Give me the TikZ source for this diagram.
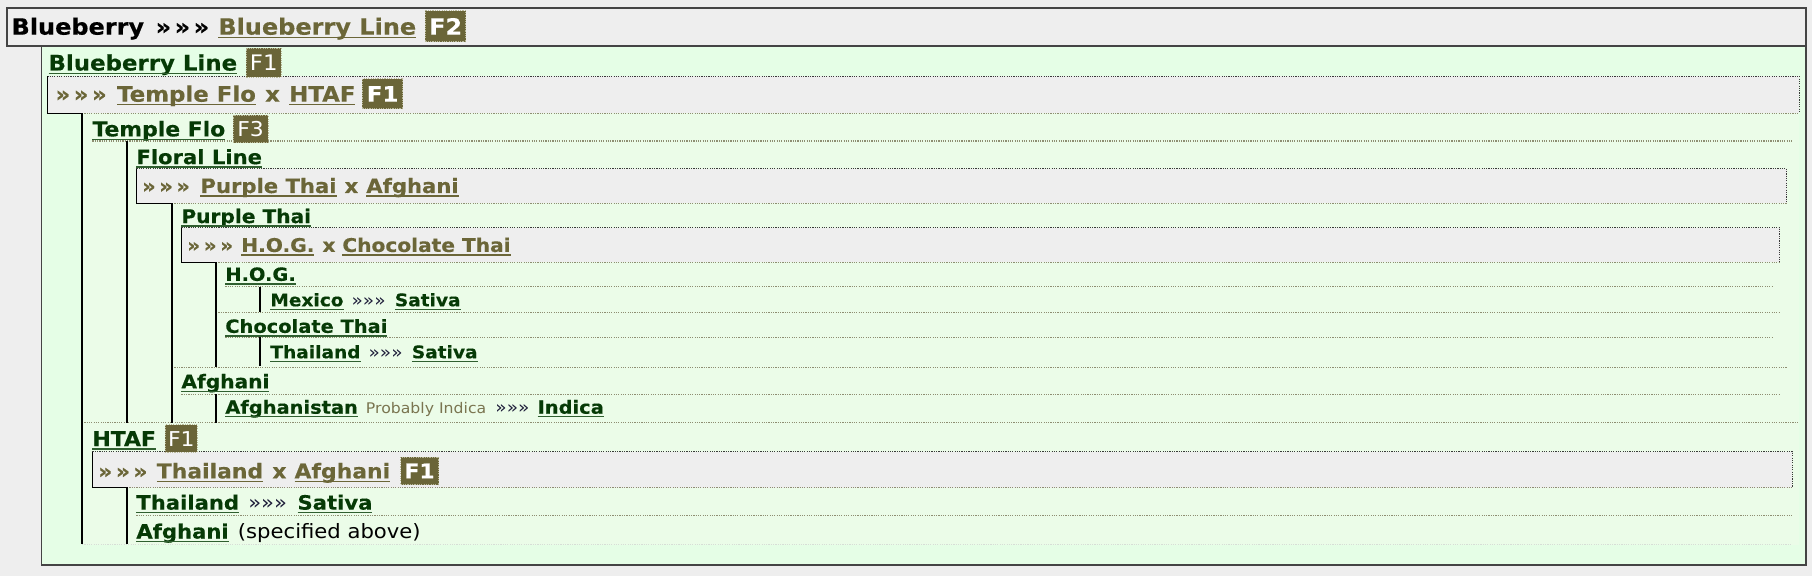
\documentclass[tikz,border=0pt]{standalone}
\usepackage{fontspec}
\setmainfont{DejaVu Sans}[FakeStretch=1.07, BoldFeatures={FakeBold=0.4}]
\definecolor{bgc}{HTML}{EEEEEE}
\definecolor{gout}{HTML}{E5FEE6}
\definecolor{gin}{HTML}{EBFCE8}
\definecolor{dg}{HTML}{063A06}
\definecolor{dgu}{HTML}{2F5F2F}
\definecolor{ol}{HTML}{6B6638}
\definecolor{bad}{HTML}{6A6538}
\definecolor{badb}{HTML}{B8B898}
\definecolor{navy}{HTML}{1E1E3A}
\definecolor{pgray}{HTML}{7A7550}
\definecolor{boxc}{HTML}{444444}
\definecolor{dotc}{HTML}{8E8E72}
\definecolor{dotd}{HTML}{3A3A3A}
\definecolor{faint}{HTML}{D6DED6}
\newcommand\fsz[1]{\fontsize{#1pt}{#1pt}\selectfont}
\newcommand\chev{»\kern3pt»\kern3pt»}
\newcommand\ulnode[2]{\draw[#2] ([yshift=-2.6pt]#1.base west) -- ([yshift=-2.6pt]#1.base east);}
\tikzset{
  t/.style={inner sep=0pt, outer sep=0pt, anchor=base west},
  f0/.style={font=\bfseries\fsz{19.4}},
  f1/.style={font=\bfseries\fsz{18.5}},
  f2/.style={font=\bfseries\fsz{17.7}},
  f3/.style={font=\bfseries\fsz{17.1}},
  f4/.style={font=\bfseries\fsz{16.3}},
  f5/.style={font=\bfseries\fsz{15.7}},
  f6/.style={font=\bfseries\fsz{15.0}},
  badge/.style={inner sep=0pt, outer sep=0pt, anchor=base west, fill=bad, text=white,
    draw=badb, dash pattern=on 1pt off 1pt, line width=0.8pt},
  ulol/.style={draw=ol, line width=1.2pt},
  uldg/.style={draw=dgu, line width=1.2pt},
  sepline/.style={draw=dotc, line width=0.9pt, dash pattern=on 1pt off 1pt},
  darkdot/.style={draw=dotd, line width=0.9pt, dash pattern=on 1pt off 1pt},
  tree/.style={draw=black, line width=1.3pt},
  border/.style={draw=boxc, line width=1.5pt},
}
\begin{document}
\begin{tikzpicture}[x=1pt,y=-1pt]
\useasboundingbox (0,0) rectangle (1568,498);
\fill[bgc] (0,0) rectangle (1568,498);
% green container
\fill[gout] (36,40) rectangle (1563,489);
\fill[gin] (71,98) rectangle (1557,472);
% cross box fills
\fill[bgc] (41,66) rectangle (1557,98);
\fill[bgc] (118,146) rectangle (1546,176);
\fill[bgc] (157,197) rectangle (1540,227);
\fill[bgc] (80,391) rectangle (1551,422);
% header
\fill[bgc] (6,7) rectangle (1563,40);
\draw[border] (36,40) -- (36,489) -- (1563,489) -- (1563,40);
\draw[border] (6,7) rectangle (1563,40);

% separators
\draw[sepline] (80,122) -- (1551,122);
\draw[sepline] (195,248) -- (1534,248);
\draw[sepline] (187,270) -- (1540,270);
\draw[sepline] (195,292) -- (1534,292);
\draw[sepline] (149,318) -- (1546,318);
\draw[sepline] (157,341) -- (1540,341);
\draw[sepline] (71,366) -- (1557,366);
\draw[sepline] (118,446) -- (1551,446);
\draw[draw=faint, line width=0.9pt, dash pattern=on 1pt off 1pt] (71,471) -- (1551,471);

% cross box borders
\draw[darkdot] (41,66) -- (1557,66) -- (1557,98);
\draw[sepline] (71,98) -- (1557,98);
\draw[darkdot] (118,146) -- (1546,146) -- (1546,176);
\draw[sepline] (149,176) -- (1546,176);
\draw[darkdot] (157,197) -- (1540,197) -- (1540,227);
\draw[sepline] (187,227) -- (1540,227);
\draw[darkdot] (80,391) -- (1551,391) -- (1551,422);
\draw[sepline] (110,422) -- (1551,422);

% tree lines
\draw[tree] (41,66) -- (41,98) -- (71,98) -- (71,471);
\draw[tree] (110,122) -- (110,366);
\draw[tree] (118,146) -- (118,176) -- (149,176) -- (149,366);
\draw[tree] (157,197) -- (157,227) -- (187,227) -- (187,318);
\draw[tree] (225,248) -- (225,270);
\draw[tree] (225,292) -- (225,317);
\draw[tree] (187,341) -- (187,366);
\draw[tree] (80,391) -- (80,422) -- (110,422) -- (110,471);

% ===== header
\node[t,f0,text=black] (hb) at (10,30) {Blueberry};
\node[t,f0,text=black] (hc) at ([xshift=10pt]hb.base east) {\chev};
\node[t,f0,text=ol] (hl) at ([xshift=8pt]hc.base east) {Blueberry Line};
\ulnode{hl}{ulol}
\node[badge,f0,minimum width=35pt,minimum height=27pt] (hf) at ([xshift=8pt]hl.base east) {F2};

% ===== Blueberry Line
\node[t,f1,text=dg] (bl) at (42,61) {Blueberry Line};
\ulnode{bl}{uldg}
\node[badge,font=\fsz{18.5},minimum width=30pt,minimum height=25pt] (blf) at ([xshift=8pt]bl.base east) {F1};

% cross 1
\node[t,f1,text=ol] (c1a) at (48,88) {\chev};
\node[t,f1,text=ol] (c1b) at ([xshift=9pt]c1a.base east) {Temple Flo};
\ulnode{c1b}{ulol}
\node[t,f1,text=ol] (c1x) at ([xshift=8pt]c1b.base east) {x};
\node[t,f1,text=ol] (c1c) at ([xshift=8pt]c1x.base east) {HTAF};
\ulnode{c1c}{ulol}
\node[badge,f1,minimum width=35pt,minimum height=26pt] (c1f) at ([xshift=6pt]c1c.base east) {F1};

% ===== Temple Flo
\node[t,f2,text=dg] (tf) at (80,118) {Temple Flo};
\ulnode{tf}{uldg}
\node[badge,font=\fsz{17.7},minimum width=30pt,minimum height=24pt] (tff) at ([xshift=7pt]tf.base east) {F3};

% Floral Line
\node[t,f3,text=dg] (fl) at (118,142) {Floral Line};
\ulnode{fl}{uldg}
% cross 2
\node[t,f3,text=ol] (c2a) at (123,167) {\chev};
\node[t,f3,text=ol] (c2b) at ([xshift=9pt]c2a.base east) {Purple Thai};
\ulnode{c2b}{ulol}
\node[t,f3,text=ol] (c2x) at ([xshift=7pt]c2b.base east) {x};
\node[t,f3,text=ol] (c2c) at ([xshift=7pt]c2x.base east) {Afghani};
\ulnode{c2c}{ulol}

% Purple Thai
\node[t,f4,text=dg] (pt) at (157,193) {Purple Thai};
\ulnode{pt}{uldg}
% cross 3
\node[t,f4,text=ol] (c3a) at (162,218) {\chev};
\node[t,f4,text=ol] (c3b) at ([xshift=7pt]c3a.base east) {H.O.G.};
\ulnode{c3b}{ulol}
\node[t,f4,text=ol] (c3x) at ([xshift=7pt]c3b.base east) {x};
\node[t,f4,text=ol] (c3c) at ([xshift=6pt]c3x.base east) {Chocolate Thai};
\ulnode{c3c}{ulol}

% H.O.G.
\node[t,f5,text=dg] (hog) at (195,243) {H.O.G.};
\ulnode{hog}{uldg}
\node[t,f6,text=dg] (mx) at (234,265) {Mexico};
\ulnode{mx}{uldg}
\node[t,font=\fsz{15},text=navy] (mxc) at ([xshift=7pt]mx.base east) {»»»};
\node[t,f6,text=dg] (mxs) at ([xshift=8pt]mxc.base east) {Sativa};
\ulnode{mxs}{uldg}

% Chocolate Thai
\node[t,f5,text=dg] (ct) at (195,288) {Chocolate Thai};
\ulnode{ct}{uldg}
\node[t,f6,text=dg] (th) at (234,310) {Thailand};
\ulnode{th}{uldg}
\node[t,font=\fsz{15},text=navy] (thc) at ([xshift=7pt]th.base east) {»»»};
\node[t,f6,text=dg] (ths) at ([xshift=8pt]thc.base east) {Sativa};
\ulnode{ths}{uldg}

% Afghani
\node[t,f4,text=dg] (af) at (157,336) {Afghani};
\ulnode{af}{uldg}
\node[t,f5,text=dg] (afn) at (195,358) {Afghanistan};
\ulnode{afn}{uldg}
\node[t,font=\fsz{12.7},text=pgray] (afp) at ([xshift=7pt]afn.base east) {Probably Indica};
\node[t,font=\fsz{15},text=navy] (afc) at ([xshift=8pt]afp.base east) {»»»};
\node[t,f5,text=dg] (afi) at ([xshift=7pt]afc.base east) {Indica};
\ulnode{afi}{uldg}

% ===== HTAF
\node[t,f2,text=dg] (ht) at (80,386) {HTAF};
\ulnode{ht}{uldg}
\node[badge,font=\fsz{17.7},minimum width=28pt,minimum height=24pt] (htf) at ([xshift=8pt]ht.base east) {F1};
% cross 4
\node[t,f2,text=ol] (c4a) at (85,414) {\chev};
\node[t,f2,text=ol] (c4b) at ([xshift=8pt]c4a.base east) {Thailand};
\ulnode{c4b}{ulol}
\node[t,f2,text=ol] (c4x) at ([xshift=8pt]c4b.base east) {x};
\node[t,f2,text=ol] (c4c) at ([xshift=7pt]c4x.base east) {Afghani};
\ulnode{c4c}{ulol}
\node[badge,f2,minimum width=33pt,minimum height=24pt] (c4f) at ([xshift=9pt]c4c.base east) {F1};

% Thailand / Afghani
\node[t,f3,text=dg] (th2) at (118,441) {Thailand};
\ulnode{th2}{uldg}
\node[t,font=\fsz{17.1},text=navy] (th2c) at ([xshift=8pt]th2.base east) {»»»};
\node[t,f3,text=dg] (th2s) at ([xshift=9pt]th2c.base east) {Sativa};
\ulnode{th2s}{uldg}
\node[t,f3,text=dg] (af2) at (118,466) {Afghani};
\ulnode{af2}{uldg}
\node[t,font=\fsz{17.1},text=black] (af2s) at ([xshift=8pt]af2.base east) {(specified above)};
\end{tikzpicture}
\end{document}
